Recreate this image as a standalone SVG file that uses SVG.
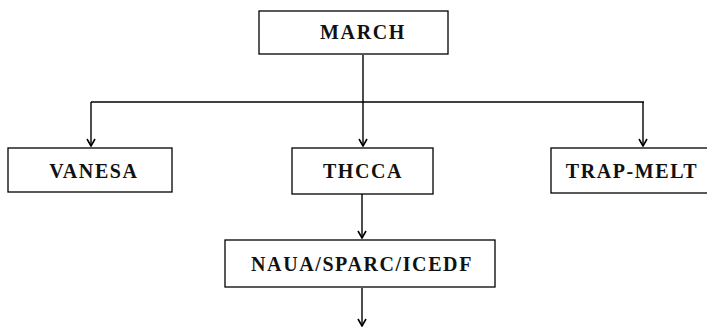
<svg xmlns="http://www.w3.org/2000/svg" width="707" height="330" viewBox="0 0 707 330">
<defs>
<marker id="ah" markerWidth="10" markerHeight="10" refX="9" refY="5" orient="auto" markerUnits="userSpaceOnUse" viewBox="0 0 10 10">
<path d="M2,1 L9,5 L2,9" fill="none" stroke="#000" stroke-width="1.6"/>
</marker>
<style>
.box{fill:#fff;stroke:#000;stroke-width:1.3}
.lbl{font-family:"Liberation Serif","Times New Roman",serif;font-weight:bold;font-size:20px;letter-spacing:1.6px;text-anchor:middle;fill:#111}
.ln{stroke:#000;stroke-width:1.4;fill:none}
</style>
</defs>
<g id="connectors">
<path class="ln" d="M363,55 V102"/>
<path class="ln" d="M91,102 H644"/>
<path class="ln" d="M91,102 V146" marker-end="url(#ah)"/>
<path class="ln" d="M363,102 V146" marker-end="url(#ah)"/>
<path class="ln" d="M643,102 V146" marker-end="url(#ah)"/>
<path class="ln" d="M362,194 V238" marker-end="url(#ah)"/>
<path class="ln" d="M362,288 V326" marker-end="url(#ah)"/>
</g>
<g id="march"><rect class="box" x="259" y="11" width="189" height="43"/><text class="lbl" x="363" y="39">MARCH</text></g>
<g id="vanesa"><rect class="box" x="8" y="148" width="164" height="44"/><text class="lbl" x="94" y="178">VANESA</text></g>
<g id="thcca"><rect class="box" x="292" y="148" width="141" height="46"/><text class="lbl" x="363" y="178">THCCA</text></g>
<g id="trapmelt"><rect class="box" x="551" y="148" width="160" height="45"/><text class="lbl" x="632" y="178">TRAP-MELT</text></g>
<g id="naua"><rect class="box" x="225" y="240" width="270" height="47"/><text class="lbl" x="362" y="271">NAUA/SPARC/ICEDF</text></g>
</svg>
